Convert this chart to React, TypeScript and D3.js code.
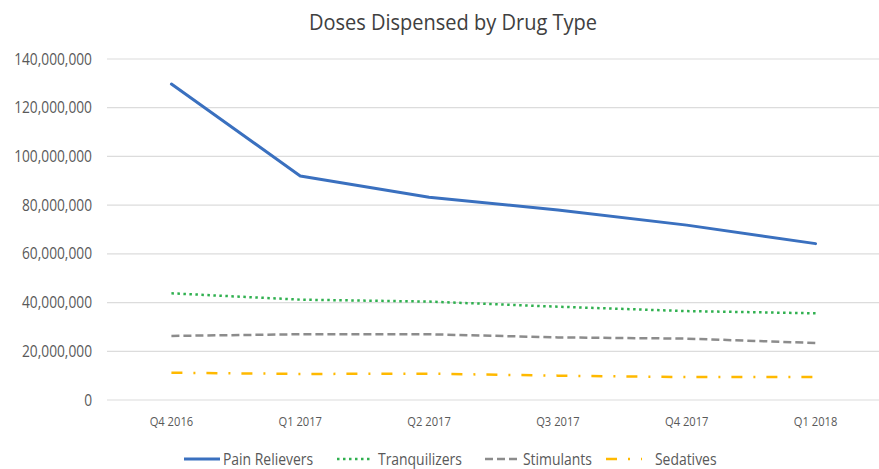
import React from "react";
import * as d3 from "d3";

const categories = ["Q4 2016", "Q1 2017", "Q2 2017", "Q3 2017", "Q4 2017", "Q1 2018"];
const painRelievers = [129700000, 92000000, 83200000, 78000000, 71800000, 64200000];
const tranquilizers = [43800000, 41200000, 40400000, 38300000, 36500000, 35600000];
const stimulants = [26300000, 27000000, 27000000, 25700000, 25200000, 23400000];
const sedatives = [11200000, 10700000, 10800000, 10000000, 9400000, 9400000];
const yTicks = [0, 20000000, 40000000, 60000000, 80000000, 100000000, 120000000, 140000000];
const seriesNames = ["Pain Relievers", "Tranquilizers", "Stimulants", "Sedatives"];

const W = 879;
const H = 469;
const margin = { left: 107, right: -1, top: 59, bottom: 69 };

const styles = [
  { color: "#3a70bf", width: 3, dash: "none", cap: "round" },
  { color: "#2fb04f", width: 2.5, dash: "2.5,3.5", cap: "butt" },
  { color: "#8c8c8c", width: 2.5, dash: "8,4", cap: "butt" },
  { color: "#ffb900", width: 2.5, dash: "11,11,2,11", cap: "butt" },
];

export default function App() {
  const data = [painRelievers, tranquilizers, stimulants, sedatives];
  const x = d3
    .scaleBand<string>()
    .domain(categories)
    .range([margin.left, W - margin.right]);
  const y = d3
    .scaleLinear()
    .domain([0, 140000000])
    .range([H - margin.bottom, margin.top]);
  const fmt = d3.format(",");
  const line = d3
    .line<number>()
    .x((_, i) => (x(categories[i]) as number) + x.bandwidth() / 2)
    .y((d) => y(d));

  const legendItems = [
    { sx: 184, tx: 223 },
    { sx: 337, tx: 378 },
    { sx: 485, tx: 523 },
    { sx: 606, tx: 655 },
  ];
  const font = "'Open Sans', 'Noto Sans', sans-serif";

  return (
    <svg width={W} height={H} style={{ position: "absolute", left: 0, top: 0, background: "#fff" }}>
      <text x={453} y={30} textAnchor="middle" fontFamily={font} fontSize={22} fill="#404040" transform="translate(453,0) scale(0.91,1) translate(-453,0)">
        Doses Dispensed by Drug Type
      </text>
      {yTicks.map((t) => (
        <g key={t}>
          <line x1={margin.left} x2={W} y1={y(t)} y2={y(t)} stroke="#dcdcdc" strokeWidth={1.2} />
          <text
            x={92}
            y={y(t)}
            dy="0.35em"
            textAnchor="end"
            fontFamily={font}
            fontSize={16}
            fill="#595959"
            transform={`translate(92,0) scale(0.86,1) translate(-92,0)`}
          >
            {fmt(t)}
          </text>
        </g>
      ))}
      {categories.map((c) => {
        const cx = (x(c) as number) + x.bandwidth() / 2;
        return (
          <text
            key={c}
            x={cx}
            y={426}
            textAnchor="middle"
            fontFamily={font}
            fontSize={13}
            fill="#595959"
            transform={`translate(${cx},0) scale(0.86,1) translate(${-cx},0)`}
          >
            {c}
          </text>
        );
      })}
      {data.map((d, i) => (
        <path
          key={seriesNames[i]}
          d={line(d) || ""}
          fill="none"
          stroke={styles[i].color}
          strokeWidth={styles[i].width}
          strokeDasharray={styles[i].dash}
          strokeLinecap={styles[i].cap as any}
          strokeLinejoin="round"
        />
      ))}
      {seriesNames.map((n, i) => (
        <g key={n}>
          <line
            x1={legendItems[i].sx}
            x2={legendItems[i].sx + 36}
            y1={459}
            y2={459}
            stroke={styles[i].color}
            strokeWidth={styles[i].width}
            strokeDasharray={styles[i].dash}
          />
          <text
            x={legendItems[i].tx}
            y={459}
            dy="0.35em"
            fontFamily={font}
            fontSize={16}
            fill="#595959"
            transform={`translate(${legendItems[i].tx},0) scale(0.87,1) translate(${-legendItems[i].tx},0)`}
          >
            {n}
          </text>
        </g>
      ))}
    </svg>
  );
}
